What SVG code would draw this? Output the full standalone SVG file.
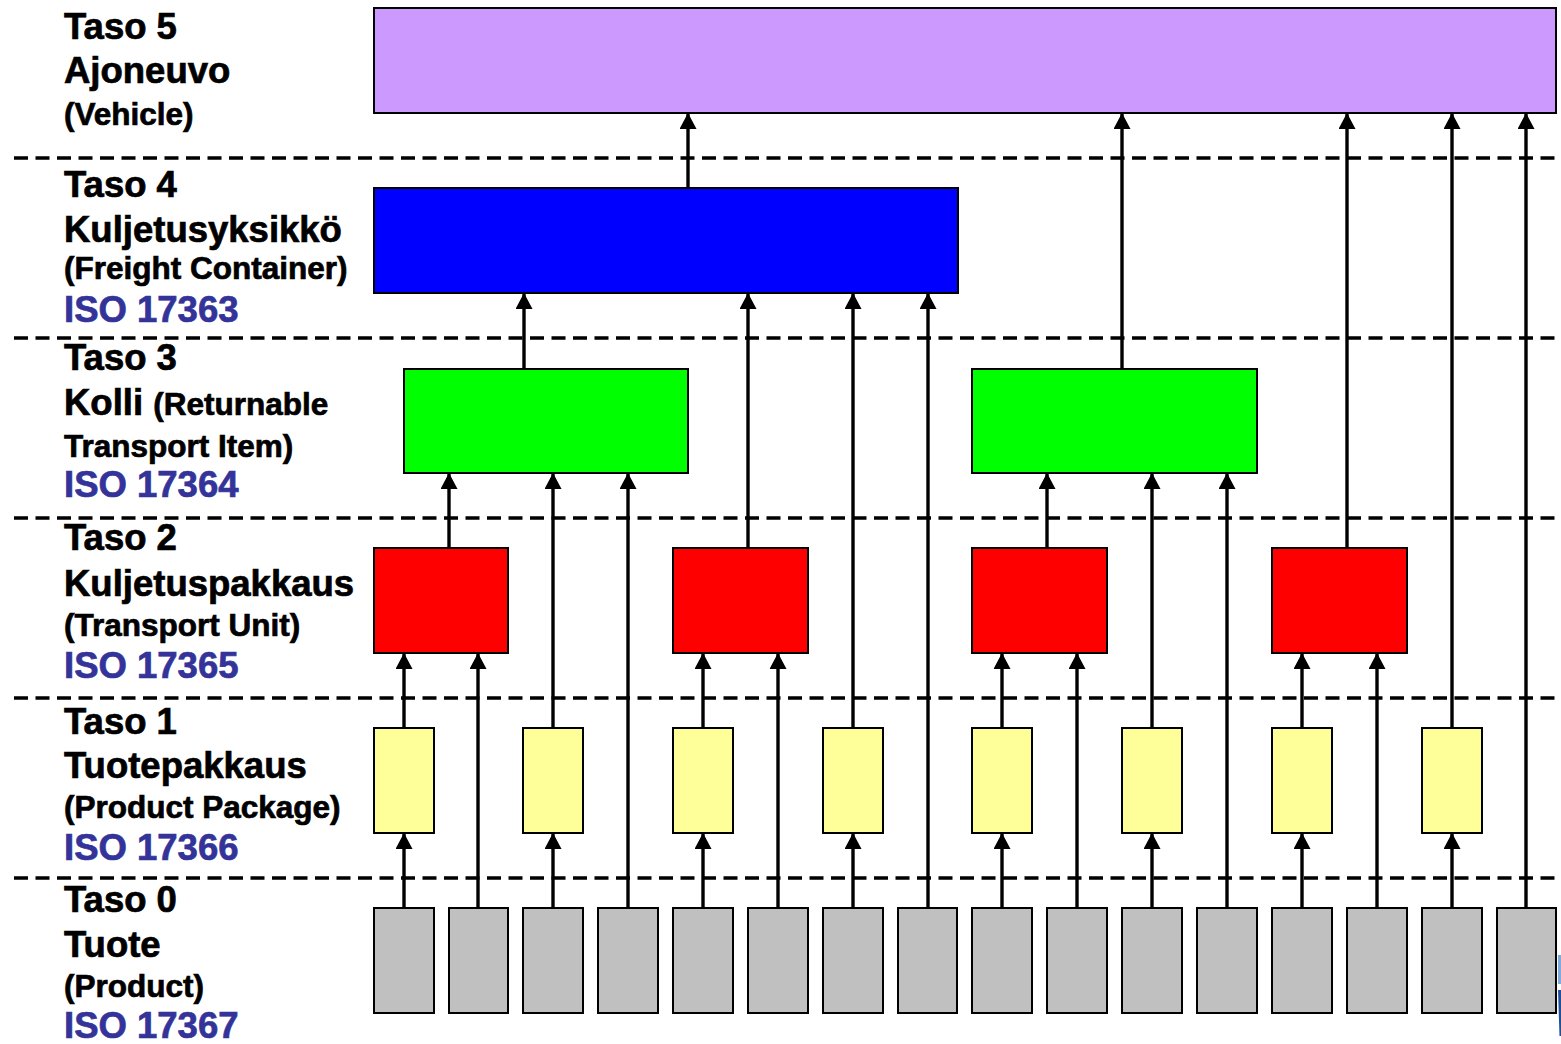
<svg xmlns="http://www.w3.org/2000/svg" width="1561" height="1044" viewBox="0 0 1561 1044">
  <style>
    .box { stroke: #000; stroke-width: 2; }
    .l5 { fill: #CC99FF; }
    .l4 { fill: #0000FF; }
    .l3 { fill: #00FF00; }
    .l2 { fill: #FF0000; }
    .l1 { fill: #FFFF99; }
    .l0 { fill: #C0C0C0; }
    .sep { stroke: #000; stroke-width: 3.3; stroke-dasharray: 14 7.5; fill: none; }
    .arrow { stroke: #000; stroke-width: 3.4; fill: none; marker-end: url(#head); }
    text { font-family: "Liberation Sans", Arial, sans-serif; font-weight: bold; fill: #000; stroke: #000; stroke-width: 0.7; }
    .big { font-size: 36.5px; }
    .small { font-size: 31.5px; }
    .iso { font-size: 36.5px; fill: #333399; stroke: #333399; }
  </style>
  <defs>
    <!-- filled triangular arrowhead, tip at the path end -->
    <marker id="head" viewBox="0 0 16 17" refX="15" refY="8.5" markerWidth="16" markerHeight="17" markerUnits="userSpaceOnUse" orient="auto">
      <path d="M0,0 L16,8.5 L0,17 Z" fill="#000"/>
    </marker>
  </defs>

  <!-- level separators -->
  <g id="separators">
    <line class="sep" x1="14" y1="158" x2="1561" y2="158"/>
    <line class="sep" x1="14" y1="338" x2="1561" y2="338"/>
    <line class="sep" x1="14" y1="518" x2="1561" y2="518"/>
    <line class="sep" x1="14" y1="698" x2="1561" y2="698"/>
    <line class="sep" x1="14" y1="878" x2="1561" y2="878"/>
  </g>

  <!-- level labels -->
  <g id="labels">
    <text class="big" x="64" y="39">Taso 5</text>
    <text class="big" x="64" y="83">Ajoneuvo</text>
    <text class="small" x="64" y="125">(Vehicle)</text>

    <text class="big" x="64" y="197">Taso 4</text>
    <text class="big" x="64" y="242">Kuljetusyksikkö</text>
    <text class="small" x="64" y="279">(Freight Container)</text>
    <text class="iso" x="64" y="322">ISO 17363</text>

    <text class="big" x="64" y="370">Taso 3</text>
    <text x="64" y="415"><tspan class="big">Kolli </tspan><tspan class="small">(Returnable</tspan></text>
    <text class="small" x="64" y="457">Transport Item)</text>
    <text class="iso" x="64" y="497">ISO 17364</text>

    <text class="big" x="64" y="550">Taso 2</text>
    <text class="big" x="64" y="596">Kuljetuspakkaus</text>
    <text class="small" x="64" y="636">(Transport Unit)</text>
    <text class="iso" x="64" y="678">ISO 17365</text>

    <text class="big" x="64" y="734">Taso 1</text>
    <text class="big" x="64" y="778">Tuotepakkaus</text>
    <text class="small" x="64" y="818">(Product Package)</text>
    <text class="iso" x="64" y="860">ISO 17366</text>

    <text class="big" x="64" y="912">Taso 0</text>
    <text class="big" x="64" y="957">Tuote</text>
    <text class="small" x="64" y="997">(Product)</text>
    <text class="iso" x="64" y="1038">ISO 17367</text>
  </g>

  <!-- connectors -->
  <g id="connectors">
    <!-- product -> product package -->
    <line class="arrow" x1="404" y1="908" x2="404" y2="834"/>
    <line class="arrow" x1="553" y1="908" x2="553" y2="834"/>
    <line class="arrow" x1="703" y1="908" x2="703" y2="834"/>
    <line class="arrow" x1="853" y1="908" x2="853" y2="834"/>
    <line class="arrow" x1="1002" y1="908" x2="1002" y2="834"/>
    <line class="arrow" x1="1152" y1="908" x2="1152" y2="834"/>
    <line class="arrow" x1="1302" y1="908" x2="1302" y2="834"/>
    <line class="arrow" x1="1452" y1="908" x2="1452" y2="834"/>
    <!-- product -> higher levels -->
    <line class="arrow" x1="478" y1="908" x2="478" y2="654"/>
    <line class="arrow" x1="628" y1="908" x2="628" y2="474"/>
    <line class="arrow" x1="778" y1="908" x2="778" y2="654"/>
    <line class="arrow" x1="928" y1="908" x2="928" y2="294"/>
    <line class="arrow" x1="1077" y1="908" x2="1077" y2="654"/>
    <line class="arrow" x1="1227" y1="908" x2="1227" y2="474"/>
    <line class="arrow" x1="1377" y1="908" x2="1377" y2="654"/>
    <line class="arrow" x1="1526" y1="908" x2="1526" y2="114"/>
    <!-- product package -> higher levels -->
    <line class="arrow" x1="404" y1="728" x2="404" y2="654"/>
    <line class="arrow" x1="553" y1="728" x2="553" y2="474"/>
    <line class="arrow" x1="703" y1="728" x2="703" y2="654"/>
    <line class="arrow" x1="853" y1="728" x2="853" y2="294"/>
    <line class="arrow" x1="1002" y1="728" x2="1002" y2="654"/>
    <line class="arrow" x1="1152" y1="728" x2="1152" y2="474"/>
    <line class="arrow" x1="1302" y1="728" x2="1302" y2="654"/>
    <line class="arrow" x1="1452" y1="728" x2="1452" y2="114"/>
    <!-- transport unit -> higher levels -->
    <line class="arrow" x1="449" y1="548" x2="449" y2="474"/>
    <line class="arrow" x1="748" y1="548" x2="748" y2="294"/>
    <line class="arrow" x1="1047" y1="548" x2="1047" y2="474"/>
    <line class="arrow" x1="1347" y1="548" x2="1347" y2="114"/>
    <!-- returnable transport item -> higher levels -->
    <line class="arrow" x1="524" y1="369" x2="524" y2="294"/>
    <line class="arrow" x1="1122" y1="369" x2="1122" y2="114"/>
    <!-- freight container -> vehicle -->
    <line class="arrow" x1="688" y1="188" x2="688" y2="114"/>
  </g>

  <!-- level 5: vehicle -->
  <g id="vehicle">
    <rect class="box l5" x="374" y="8" width="1182" height="105"/>
  </g>

  <!-- level 4: freight container -->
  <g id="freight-container">
    <rect class="box l4" x="374" y="188" width="584" height="105"/>
  </g>

  <!-- level 3: returnable transport items -->
  <g id="rti-1"><rect class="box l3" x="404" y="369" width="284" height="104"/></g>
  <g id="rti-2"><rect class="box l3" x="972" y="369" width="285" height="104"/></g>

  <!-- level 2: transport units -->
  <g id="tu-1"><rect class="box l2" x="374" y="548" width="134" height="105"/></g>
  <g id="tu-2"><rect class="box l2" x="673" y="548" width="135" height="105"/></g>
  <g id="tu-3"><rect class="box l2" x="972" y="548" width="135" height="105"/></g>
  <g id="tu-4"><rect class="box l2" x="1272" y="548" width="135" height="105"/></g>

  <!-- level 1: product packages -->
  <g id="pp-1"><rect class="box l1" x="374" y="728" width="60" height="105"/></g>
  <g id="pp-2"><rect class="box l1" x="523" y="728" width="60" height="105"/></g>
  <g id="pp-3"><rect class="box l1" x="673" y="728" width="60" height="105"/></g>
  <g id="pp-4"><rect class="box l1" x="823" y="728" width="60" height="105"/></g>
  <g id="pp-5"><rect class="box l1" x="972" y="728" width="60" height="105"/></g>
  <g id="pp-6"><rect class="box l1" x="1122" y="728" width="60" height="105"/></g>
  <g id="pp-7"><rect class="box l1" x="1272" y="728" width="60" height="105"/></g>
  <g id="pp-8"><rect class="box l1" x="1422" y="728" width="60" height="105"/></g>

  <!-- level 0: products -->
  <g id="p-1"><rect class="box l0" x="374" y="908" width="60" height="105"/></g>
  <g id="p-2"><rect class="box l0" x="449" y="908" width="59" height="105"/></g>
  <g id="p-3"><rect class="box l0" x="523" y="908" width="60" height="105"/></g>
  <g id="p-4"><rect class="box l0" x="598" y="908" width="60" height="105"/></g>
  <g id="p-5"><rect class="box l0" x="673" y="908" width="60" height="105"/></g>
  <g id="p-6"><rect class="box l0" x="748" y="908" width="60" height="105"/></g>
  <g id="p-7"><rect class="box l0" x="823" y="908" width="60" height="105"/></g>
  <g id="p-8"><rect class="box l0" x="898" y="908" width="59" height="105"/></g>
  <g id="p-9"><rect class="box l0" x="972" y="908" width="60" height="105"/></g>
  <g id="p-10"><rect class="box l0" x="1047" y="908" width="60" height="105"/></g>
  <g id="p-11"><rect class="box l0" x="1122" y="908" width="60" height="105"/></g>
  <g id="p-12"><rect class="box l0" x="1197" y="908" width="60" height="105"/></g>
  <g id="p-13"><rect class="box l0" x="1272" y="908" width="60" height="105"/></g>
  <g id="p-14"><rect class="box l0" x="1347" y="908" width="60" height="105"/></g>
  <g id="p-15"><rect class="box l0" x="1422" y="908" width="60" height="105"/></g>
  <g id="p-16"><rect class="box l0" x="1497" y="908" width="59" height="105"/></g>

  <!-- partial shape at the right edge -->
  <rect x="1558" y="955" width="3" height="29" fill="#7FAADD"/>
  <path d="M1558,990 L1561,990 L1561,1036 L1559.5,1036 Z" fill="#1F4E9A"/>
</svg>
